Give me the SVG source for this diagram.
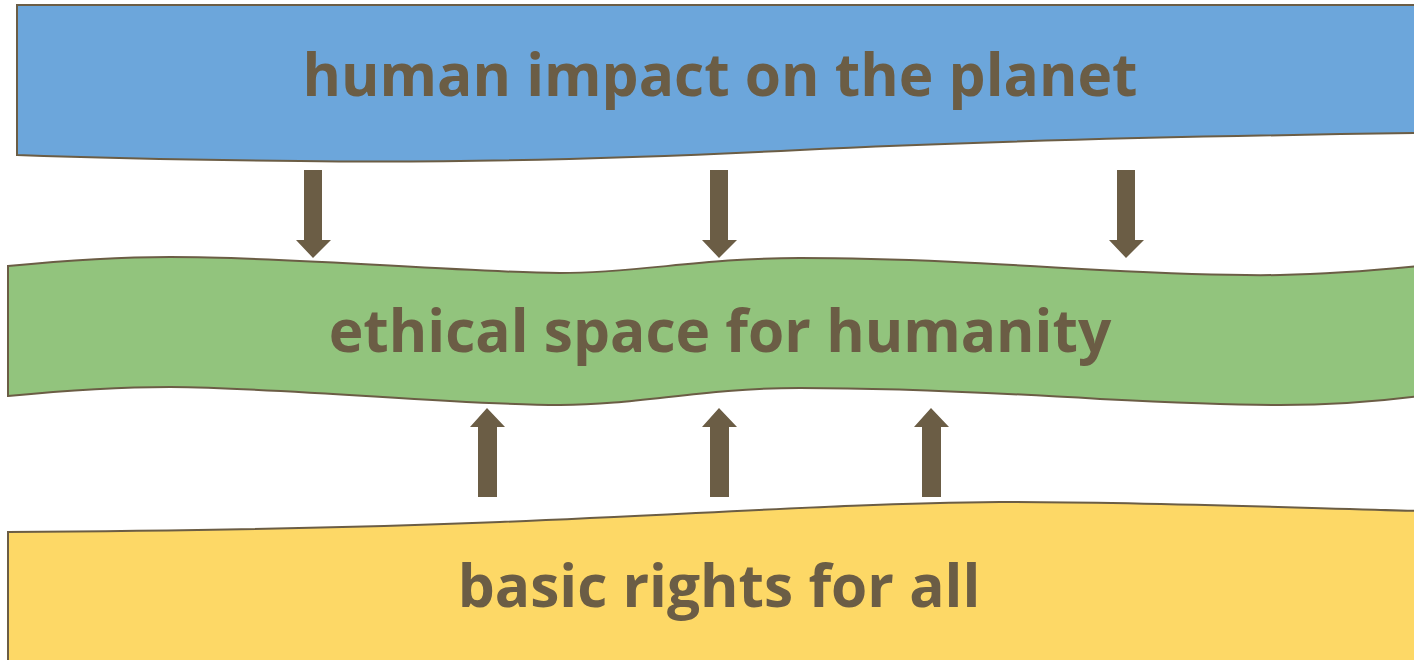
<svg xmlns="http://www.w3.org/2000/svg" width="1414" height="660" viewBox="0 0 1414 660">
<style>
.band{stroke:#6b5d45;stroke-width:2}
.lbl{font-family:"Open Sans","Noto Sans","DejaVu Sans",sans-serif;font-weight:bold;font-size:58.6px;fill:#6b5d45;text-anchor:middle}
.arr{fill:#6b5d45}
</style>
<rect width="1414" height="660" fill="#ffffff"/>
<g id="top">
<path class="band" fill="#6ca6db" d="M17,5 L1420,5 L1420,133 C1200,136 1000,140 800,150 C600,160 450,163 300,161 C200,160 100,158 17,155 Z"/>
<text class="lbl" x="720" y="96">human impact on the planet</text>
</g>
<g id="middle">
<path class="band" fill="#92c47d" d="M8,266 C60,261 110,257 170,257 C300,257 450,272 560,273 C640,273 700,258 800,258 C900,258 1000,264 1100,270 C1180,274 1230,276 1280,275 C1340,274 1390,269 1420,266 L1420,396 C1390,400 1340,405 1280,405 C1230,405 1180,403 1100,399 C1000,393 900,388 800,388 C700,388 640,405 560,405 C450,405 300,388 170,387 C110,387 60,391 8,396 Z"/>
<text class="lbl" x="720" y="352">ethical space for humanity</text>
</g>
<g id="bottom">
<path class="band" fill="#fdd866" d="M8,532 C150,531 350,528 500,522 C700,514 850,503 1000,502 C1150,502 1300,508 1420,511 L1420,665 L8,665 Z"/>
<text class="lbl" x="719" y="607">basic rights for all</text>
</g>
<g id="connectors">
<path class="arr" d="M304,170 H322 V240 H331 L313,258 L296,240 H304 Z"/>
<path class="arr" d="M710,170 H728 V240 H737 L719,258 L702,240 H710 Z"/>
<path class="arr" d="M1117,170 H1135 V240 H1144 L1126,258 L1109,240 H1117 Z"/>
<path class="arr" d="M478,497 H497 V427 H505 L487,408 L470,427 H478 Z"/>
<path class="arr" d="M710,497 H729 V427 H737 L719,408 L702,427 H710 Z"/>
<path class="arr" d="M922,497 H941 V427 H949 L931,408 L914,427 H922 Z"/>
</g>
</svg>
